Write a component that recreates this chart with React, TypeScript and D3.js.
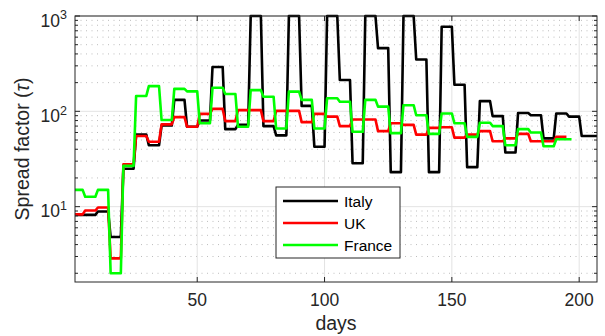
import React from 'react';
import * as d3 from 'd3';

// Block start days (values are constant over 5-day blocks)
const blockStartDays = [
  1, 6, 11, 16, 21, 26, 31, 36, 41, 46, 51, 56, 61, 66, 71, 76, 81, 86, 91, 96,
  101, 106, 111, 116, 121, 126, 131, 136, 141, 146, 151, 156, 161, 166, 171, 176,
  181, 186, 191, 196, 201,
];

const italyValues = [
  8.2, 8.2, 8.9, 4.8, 25, 57, 44, 71, 132, 69, 80, 292, 65, 72, 1000, 70, 56, 1000,
  114, 42.5, 1000, 213, 28.5, 1000, 460, 23, 1000, 350, 23, 770, 190, 26, 128, 89,
  37, 96, 91, 52, 95, 88, 55,
];
const ukValues = [
  8.3, 9.1, 9.8, 2.87, 27.8, 55, 48, 73, 87, 69, 94, 106, 79, 103, 103, 79, 101,
  101, 77, 94, 88, 70, 82, 82, 62, 75, 72, 57, 67, 68, 53, 57, 62, 48.5, 52, 58,
  48.5, 48.5, 54,
];
const franceValues = [
  15, 12.7, 15, 2.0, 26.8, 145, 184, 81, 172, 162, 75, 177, 152, 69, 167, 142, 66,
  161, 132, 66, 137, 126, 61, 132, 112, 59, 116, 91, 58, 95, 75, 54, 76, 70, 44,
  65, 60, 43, 51,
];

const seriesNames = ['Italy', 'UK', 'France'];
const seriesColors = ['#000000', '#ff0000', '#00ff00'];
const seriesEndDays = [207, 195, 197];

const xTicks = [50, 100, 150, 200];
const yMajorTicks = [10, 100, 1000];
const yTickExponents = ['1', '2', '3'];
const xDomain = [2, 207];
const yDomain = [1.62, 1000];

const W = 605;
const H = 336;
const M = { left: 75, right: 8, top: 16, bottom: 54 };
const AX = '#262626';
const FONT = '"Liberation Sans", Arial, Helvetica, sans-serif';

function stairs(values: number[], endDay: number): [number, number][] {
  const pts: [number, number][] = [];
  values.forEach((v, i) => {
    const s = Math.max(blockStartDays[i], xDomain[0]);
    const e = i === values.length - 1 ? endDay : blockStartDays[i] + 4;
    pts.push([s, v], [e, v]);
  });
  return pts;
}

export default function App() {
  const x0 = M.left;
  const x1 = W - M.right;
  const y0 = H - M.bottom;
  const y1 = M.top;
  const x = d3.scaleLinear().domain(xDomain).range([x0, x1]);
  const y = d3.scaleLog().domain(yDomain).range([y0, y1]);

  const minorY: number[] = [];
  [1, 10, 100].forEach((d) => {
    for (let k = 2; k <= 9; k++) {
      const v = d * k;
      if (v >= yDomain[0] && v <= yDomain[1]) minorY.push(v);
    }
  });

  const line = d3
    .line<[number, number]>()
    .x((d) => x(d[0]))
    .y((d) => y(d[1]));

  const allValues = [italyValues, ukValues, franceValues];

  const legX = 276;
  const legY = 187;
  const legW = 124;
  const legH = 71;
  const legRows = [201, 223, 245];

  return (
    <svg width={W} height={H} style={{ display: 'block', position: 'absolute', left: 0, top: 0 }}>
      <rect x={0} y={0} width={W} height={H} fill="#fff" />
      {/* minor grid */}
      {minorY.map((v) => (
        <line key={'mg' + v} x1={x0} x2={x1} y1={y(v)} y2={y(v)} stroke="#bdbdbd" strokeWidth={1} strokeDasharray="1,4.5" />
      ))}
      {/* major grid */}
      {yMajorTicks.map((v) => (
        <line key={'gy' + v} x1={x0} x2={x1} y1={y(v)} y2={y(v)} stroke="#e3e3e3" strokeWidth={1} />
      ))}
      {xTicks.map((v) => (
        <line key={'gx' + v} x1={x(v)} x2={x(v)} y1={y0} y2={y1} stroke="#e3e3e3" strokeWidth={1} />
      ))}
      {/* data */}
      {allValues.map((vals, i) => (
        <path
          key={seriesNames[i]}
          d={line(stairs(vals, seriesEndDays[i])) || ''}
          fill="none"
          stroke={seriesColors[i]}
          strokeWidth={2.6}
          strokeLinejoin="round"
        />
      ))}
      {/* axes box */}
      <rect x={x0} y={y1} width={x1 - x0} height={y0 - y1} fill="none" stroke={AX} strokeWidth={1} />
      {/* ticks */}
      {xTicks.map((v) => (
        <g key={'xt' + v}>
          <line x1={x(v)} x2={x(v)} y1={y0} y2={y0 - 5} stroke={AX} />
          <line x1={x(v)} x2={x(v)} y1={y1} y2={y1 + 5} stroke={AX} />
          <text x={x(v)} y={306} textAnchor="middle" fontFamily={FONT} fontSize={17.5} fill={AX}>
            {v}
          </text>
        </g>
      ))}
      {yMajorTicks.map((v, i) => (
        <g key={'yt' + v}>
          <line x1={x0} x2={x0 + 5} y1={y(v)} y2={y(v)} stroke={AX} />
          <line x1={x1} x2={x1 - 5} y1={y(v)} y2={y(v)} stroke={AX} />
          <text x={67} y={y(v) + 10.7} textAnchor="end" fontFamily={FONT} fontSize={17.5} fill={AX}>
            10
            <tspan dy={-7.4} fontSize={12.5}>
              {yTickExponents[i]}
            </tspan>
          </text>
        </g>
      ))}
      {minorY.map((v) => (
        <g key={'ymt' + v}>
          <line x1={x0} x2={x0 + 3} y1={y(v)} y2={y(v)} stroke={AX} />
          <line x1={x1} x2={x1 - 3} y1={y(v)} y2={y(v)} stroke={AX} />
        </g>
      ))}
      {/* axis labels */}
      <text x={(x0 + x1) / 2} y={330} textAnchor="middle" fontFamily={FONT} fontSize={19.5} fill={AX}>
        days
      </text>
      <text
        transform={`translate(29,${(y0 + y1) / 2}) rotate(-90)`}
        textAnchor="middle"
        fontFamily={FONT}
        fontSize={19.5}
        fill={AX}
      >
        Spread factor (<tspan fontStyle="italic">τ</tspan>)
      </text>
      {/* legend */}
      <rect x={legX} y={legY} width={legW} height={legH} fill="#fff" stroke={AX} strokeWidth={1} />
      {seriesNames.map((n, i) => (
        <g key={'lg' + n}>
          <line x1={283} x2={338} y1={legRows[i]} y2={legRows[i]} stroke={seriesColors[i]} strokeWidth={2.6} />
          <text x={344} y={legRows[i] + 5.5} fontFamily={FONT} fontSize={15.5} fill="#000">
            {n}
          </text>
        </g>
      ))}
    </svg>
  );
}
